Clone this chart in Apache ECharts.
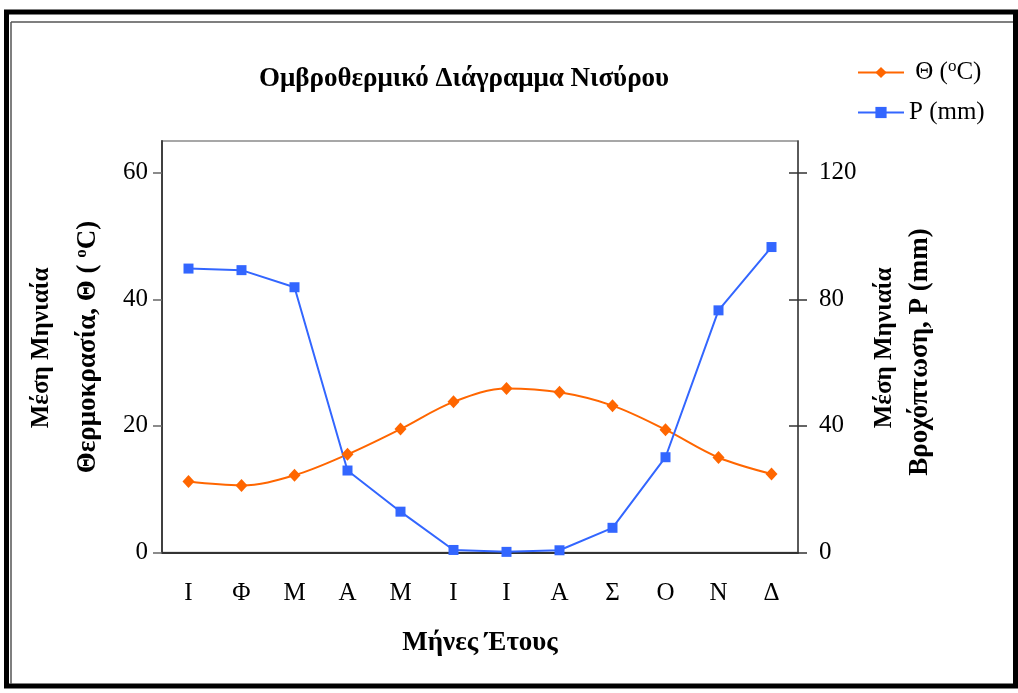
<!DOCTYPE html>
<html>
<head>
<meta charset="utf-8">
<script src="https://cdn.jsdelivr.net/npm/echarts@6/dist/echarts.min.js"></script>
<style>
html,body{margin:0;padding:0;background:#fff;}
#c{width:1018px;height:693px;}
</style>
</head>
<body>
<div id="c"></div>
<script>
const months = ['Ι','Φ','Μ','Α','Μ','Ι','Ι','Α','Σ','Ο','Ν','Δ'];
const temperature = [11.2, 10.6, 12.2, 15.5, 19.5, 23.8, 25.9, 25.3, 23.2, 19.4, 15.0, 12.4];
const precipitation = [89.7, 89.2, 83.8, 25.9, 12.9, 0.8, 0.2, 0.7, 7.8, 30.1, 76.5, 96.5];
const leftTicks = [0, 20, 40, 60];
const rightTicks = [0, 40, 80, 120];
const seriesNames = ['Θ (oC)', 'P (mm)'];

const FONT = "'Liberation Serif', 'Times New Roman', serif";
const chart = echarts.init(document.getElementById('c'));

function bold(size) { return {fontFamily: FONT, fontSize: size, fontWeight: 'bold', fill: '#000'}; }

chart.setOption({
  animation: false,
  backgroundColor: '#fff',
  grid: {left: 162, right: 220, top: 141, bottom: 140.5, show: true, borderColor: '#8a8a8a', borderWidth: 1.5, backgroundColor: 'transparent'},
  legend: {
    orient: 'vertical', left: 852, top: 53, itemWidth: 46, itemHeight: 14, itemGap: 15,
    textStyle: {fontFamily: FONT, fontSize: 25, color: '#000',
      rich: {t: {fontFamily: FONT, fontSize: 25, color: '#000'}, s: {fontFamily: FONT, fontSize: 17, color: '#000', verticalAlign: 'top', padding: [0,0,12,0]}}},
    formatter: function (n) {
      if (n === seriesNames[0]) return '{t| Θ (}{s|o}{t|C)}';
      return '{t|' + n + '}';
    },
    data: seriesNames
  },
  xAxis: {
    type: 'category', data: months, boundaryGap: true,
    axisLine: {lineStyle: {color: '#333', width: 2}},
    axisTick: {show: false},
    axisLabel: {fontFamily: FONT, fontSize: 25, color: '#000', margin: 28, interval: 0},
    splitLine: {show: false}
  },
  yAxis: [
    {type: 'value', min: 0, max: 65, position: 'left',
     axisLine: {show: true, lineStyle: {color: '#404040', width: 2}},
     axisTick: {show: true, length: 9, lineStyle: {color: '#666', width: 1.5}, customValues: leftTicks},
     axisLabel: {fontFamily: FONT, fontSize: 25, color: '#000', margin: 14, customValues: leftTicks},
     splitLine: {show: false}},
    {type: 'value', min: 0, max: 130, position: 'right',
     axisLine: {show: true, lineStyle: {color: '#404040', width: 1.5}},
     axisTick: {show: true, length: 9, lineStyle: {color: '#333', width: 1.5}, customValues: rightTicks},
     axisLabel: {fontFamily: FONT, fontSize: 25, color: '#000', margin: 21, customValues: rightTicks},
     splitLine: {show: false}},
    {type: 'value', min: 0, max: 130, position: 'right',
     axisLine: {show: false},
     axisTick: {show: true, inside: true, length: 9, lineStyle: {color: '#333', width: 1.5}, customValues: rightTicks},
     axisLabel: {show: false},
     splitLine: {show: false}}
  ],
  series: [
    {name: seriesNames[0], type: 'line', yAxisIndex: 0, data: temperature, smooth: 0.35,
     symbol: 'diamond', symbolSize: [12, 13],
     lineStyle: {color: '#FF6600', width: 2}, itemStyle: {color: '#FF6600'}},
    {name: seriesNames[1], type: 'line', yAxisIndex: 1, data: precipitation, smooth: false,
     symbol: 'rect', symbolSize: 10,
     lineStyle: {color: '#3366FF', width: 2}, itemStyle: {color: '#3366FF'}}
  ],
  graphic: [
    {type: 'rect', shape: {x: 6.5, y: 12, width: 1009, height: 674}, style: {fill: 'none', stroke: '#000', lineWidth: 5}, silent: true},
    {type: 'line', shape: {x1: 11, y1: 22, x2: 1013, y2: 22}, style: {stroke: '#555', lineWidth: 1.5}, silent: true},
    {type: 'line', shape: {x1: 11, y1: 22, x2: 11, y2: 684}, style: {stroke: '#555', lineWidth: 1.5}, silent: true},
    {type: 'text', x: 464, y: 79, style: Object.assign({text: 'Ομβροθερμικό Διάγραμμα Νισύρου', align: 'center', verticalAlign: 'middle'}, bold(27))},
    {type: 'text', x: 480, y: 643, style: Object.assign({text: 'Μήνες Έτους', align: 'center', verticalAlign: 'middle'}, bold(27))},
    {type: 'text', x: 42, y: 348, rotation: Math.PI / 2, style: Object.assign({text: 'Μέση Μηνιαία', align: 'center', verticalAlign: 'middle'}, bold(25))},
    {type: 'text', x: 88, y: 347, rotation: Math.PI / 2, style: {
      text: '{b|Θερμοκρασία, Θ ( }{s|o}{b|C)}', align: 'center', verticalAlign: 'middle',
      rich: {b: {fontFamily: FONT, fontSize: 27, fontWeight: 'bold', fill: '#000', color: '#000'},
             s: {fontFamily: FONT, fontSize: 17, fontWeight: 'bold', fill: '#000', color: '#000', verticalAlign: 'top', padding: [0,0,12,0]}}}},
    {type: 'text', x: 885, y: 348, rotation: Math.PI / 2, style: Object.assign({text: 'Μέση Μηνιαία', align: 'center', verticalAlign: 'middle'}, bold(25))},
    {type: 'text', x: 920, y: 352, rotation: Math.PI / 2, style: Object.assign({text: 'Βροχόπτωση, P (mm)', align: 'center', verticalAlign: 'middle'}, bold(27))}
  ]
});
</script>
</body>
</html>
